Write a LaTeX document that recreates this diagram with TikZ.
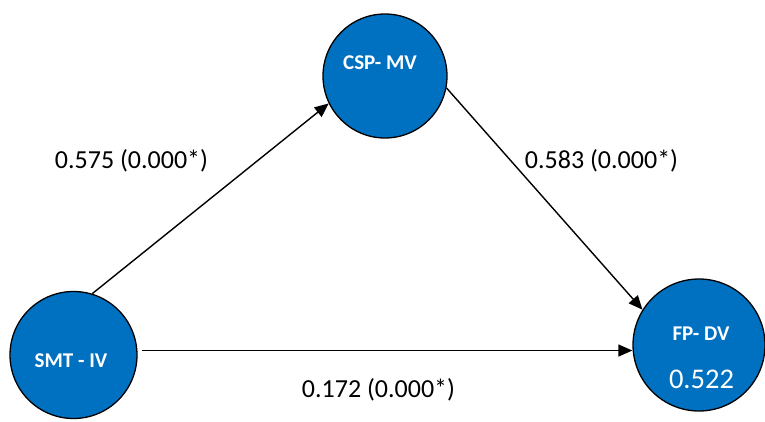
\documentclass[tikz,border=0pt]{standalone}
\usepackage{fontspec}
\setmainfont{Carlito}
\usetikzlibrary{arrows.meta}
\definecolor{nodeblue}{HTML}{0070C0}
\tikzset{
  var/.style={circle,draw=black,line width=1.3pt,fill=nodeblue,inner sep=0pt},
  vname/.style={text=white,font=\fontsize{21}{24}\selectfont\bfseries,anchor=base,inner sep=0pt},
  vval/.style={text=white,font=\fontsize{28.5}{32}\selectfont,anchor=base,inner sep=0pt},
  coef/.style={text=black,font=\fontsize{26}{30}\selectfont,anchor=base,inner sep=0pt},
  arr/.style={line width=1.4pt,-{Triangle[length=14pt,width=12pt]}}
}
\begin{document}
\begin{tikzpicture}[x=1pt,y=-1pt]
\useasboundingbox (0,0) rectangle (765,422);
\node[var,minimum size=124pt] (csp) at (385,76) {};
\node[var,minimum size=127pt] (smt) at (73.5,355) {};
\node[var,minimum size=132pt] (fp) at (699,345) {};
\node[vname] (csplab) at (380,70) {CSP- MV};
\node[vname] (smtlab) at (71,367) {SMT - IV};
\node[vname] (fplab) at (701,340) {FP- DV};
\node[vval] (fpval) at (701.5,388) {0.522};
\draw[arr] (smt.73) -- (csp.206);
\draw[arr] (csp.-11) -- (fp.148);
\draw[arr] ([xshift=5pt]smt.4.5) -- (fp.west |- smt.4.5);
\node[coef] (c1) at (131.5,168) {0.575 (0.000*)};
\node[coef] (c2) at (601.5,168) {0.583 (0.000*)};
\node[coef] (c3) at (378.5,397) {0.172 (0.000*)};
\end{tikzpicture}
\end{document}
